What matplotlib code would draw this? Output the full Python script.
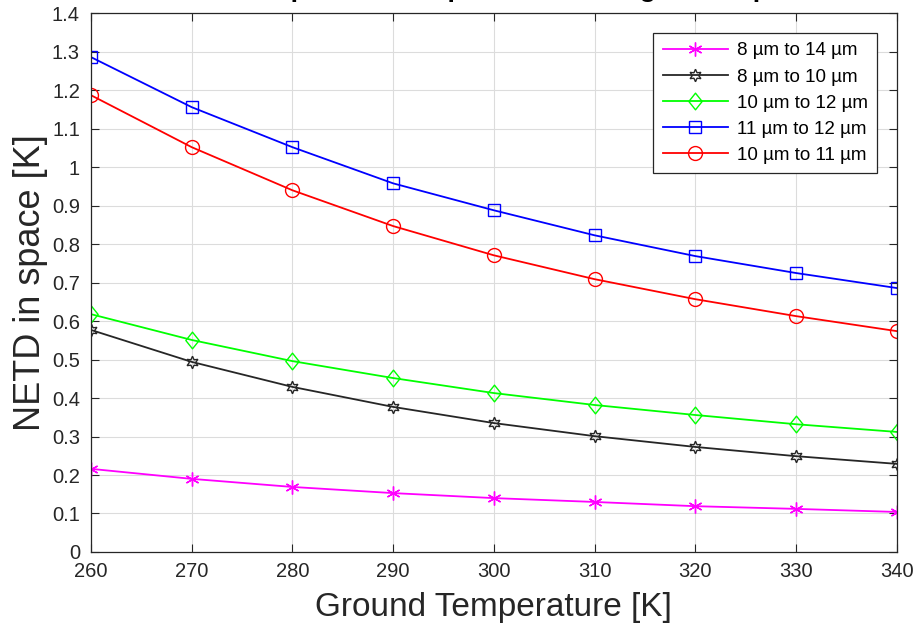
import matplotlib.pyplot as plt
from matplotlib.path import Path
from matplotlib.ticker import FuncFormatter

plt.rcParams['font.family'] = ['Liberation Sans', 'DejaVu Sans']

# Ground temperature [K]
temps = [260, 270, 280, 290, 300, 310, 320, 330, 340]

# NETD in space [K] per spectral band
netd_8_14 = [0.216, 0.190, 0.169, 0.153, 0.140, 0.130, 0.119, 0.112, 0.104]
netd_8_10 = [0.577, 0.494, 0.429, 0.377, 0.335, 0.301, 0.273, 0.249, 0.229]
netd_10_12 = [0.618, 0.551, 0.496, 0.452, 0.413, 0.382, 0.356, 0.332, 0.312]
netd_11_12 = [1.286, 1.156, 1.052, 0.958, 0.888, 0.823, 0.769, 0.725, 0.686]
netd_10_11 = [1.187, 1.052, 0.940, 0.847, 0.771, 0.709, 0.657, 0.613, 0.574]

labels = ['8 µm to 14 µm', '8 µm to 10 µm', '10 µm to 12 µm',
          '11 µm to 12 µm', '10 µm to 11 µm']

# matlab style diamond (a bit taller than wide)
diamond = Path([(0, 1), (0.8, 0), (0, -1), (-0.8, 0), (0, 1)],
               [Path.MOVETO, Path.LINETO, Path.LINETO, Path.LINETO, Path.CLOSEPOLY])

fig = plt.figure(figsize=(9.15, 6.33), dpi=100)
ax = fig.add_axes([0.0995, 0.128, 0.8805, 0.851])

ax.plot(temps, netd_8_14, color='#ff00ff', marker=(6, 2, 0), ms=10, mew=1.0, lw=1.3, label=labels[0])
ax.plot(temps, netd_8_10, color='#262626', marker=(6, 1, 0), ms=9, mfc='none', mew=1.0, lw=1.3, label=labels[1])
ax.plot(temps, netd_10_12, color='#00ff00', marker=diamond, ms=12, mfc='none', mew=1.0, lw=1.3, label=labels[2])
ax.plot(temps, netd_11_12, color='#0000ff', marker='s', ms=8, mfc='none', mew=1.0, lw=1.3, label=labels[3])
ax.plot(temps, netd_10_11, color='#ff0000', marker='o', ms=10, mfc='none', mew=1.0, lw=1.3, label=labels[4])

ax.set_xlim(260, 340)
ax.set_ylim(0, 1.4)
ax.set_xticks(temps)
ax.set_yticks([i / 10 for i in range(15)])
ax.yaxis.set_major_formatter(FuncFormatter(lambda v, p: '%g' % round(v, 1)))

ax.grid(True, color='#dcdcdc', lw=0.8)
ax.set_axisbelow(True)
ax.tick_params(direction='in', length=6, width=0.8, colors='#262626', labelsize=14.5,
               top=True, right=True)
ax.tick_params(axis='x', pad=7)
ax.tick_params(axis='y', pad=8)
for s in ax.spines.values():
    s.set_color('#262626')
    s.set_linewidth(0.9)

ax.set_xlabel('Ground Temperature [K]', fontsize=24, color='#262626', labelpad=8)
ax.set_ylabel('NETD in space [K]', fontsize=26, color='#262626', labelpad=3)

leg = ax.legend(loc='upper right', fontsize=13.5, fancybox=False, edgecolor='#262626',
                framealpha=1, handlelength=3.5, borderaxespad=1.05, labelspacing=0.48,
                borderpad=0.5, handletextpad=0.45)
leg.get_frame().set_linewidth(0.9)

# title is mostly clipped by the top of the figure
fig.text(0.525, 1.0045, 'NETD in space for temperature of the ground spot', ha='center',
         va='baseline', fontsize=19, fontweight='bold', color='black')

fig.savefig('out.png', dpi=100)
